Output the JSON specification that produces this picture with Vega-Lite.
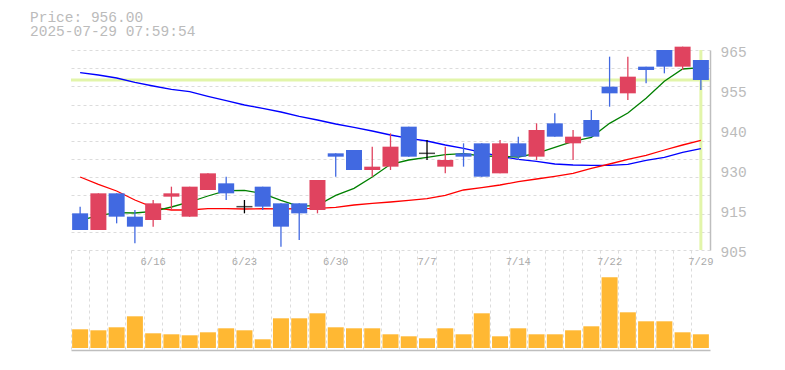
{
  "$schema": "https://vega.github.io/schema/vega-lite/v6.json",
  "background": "white",
  "padding": {"left": 30, "top": 9, "right": 5, "bottom": 5},
  "title": {
    "text": ["Price: 956.00", "2025-07-29 07:59:54"],
    "anchor": "start",
    "frame": "group",
    "dx": -41,
    "offset": 5,
    "font": "Liberation Mono",
    "fontSize": 14.5,
    "fontWeight": "normal",
    "lineHeight": 14.5,
    "color": "#bbbbbb"
  },
  "datasets": {
    "ohlc": [
      {"d": "6/10", "o": 916, "h": 918, "l": 911, "c": 911, "v": 187000, "ma5": 913.9, "ma25": 926.9, "ma75": 958.2},
      {"d": "6/11", "o": 911, "h": 922, "l": 911, "c": 922, "v": 177000, "ma5": 915.3, "ma25": 924.7, "ma75": 957.5},
      {"d": "6/12", "o": 922, "h": 922, "l": 913, "c": 915, "v": 207000, "ma5": 916.2, "ma25": 922.7, "ma75": 956.6},
      {"d": "6/13", "o": 915, "h": 917, "l": 907, "c": 912, "v": 317000, "ma5": 916.1, "ma25": 920.0, "ma75": 955.3},
      {"d": "6/16", "o": 914, "h": 920, "l": 912, "c": 919, "v": 147000, "ma5": 916.6, "ma25": 917.8, "ma75": 954.2},
      {"d": "6/17", "o": 921, "h": 924, "l": 917, "c": 922, "v": 137000, "ma5": 917.9, "ma25": 917.0, "ma75": 953.2},
      {"d": "6/18", "o": 915, "h": 924, "l": 915, "c": 924, "v": 127000, "ma5": 919.4, "ma25": 917.0, "ma75": 952.5},
      {"d": "6/19", "o": 923, "h": 928, "l": 923, "c": 928, "v": 157000, "ma5": 921.2, "ma25": 917.4, "ma75": 951.1},
      {"d": "6/20", "o": 925, "h": 927, "l": 920, "c": 922, "v": 197000, "ma5": 922.8, "ma25": 917.4, "ma75": 949.8},
      {"d": "6/23", "o": 918, "h": 920, "l": 916, "c": 918, "v": 177000, "ma5": 922.9, "ma25": 917.3, "ma75": 948.5},
      {"d": "6/24", "o": 924, "h": 924, "l": 917, "c": 918, "v": 87000, "ma5": 921.9, "ma25": 917.4, "ma75": 947.5},
      {"d": "6/25", "o": 919, "h": 919, "l": 906, "c": 912, "v": 297000, "ma5": 919.9, "ma25": 917.3, "ma75": 946.4},
      {"d": "6/26", "o": 919, "h": 919, "l": 908, "c": 916, "v": 297000, "ma5": 918.1, "ma25": 917.4, "ma75": 945.1},
      {"d": "6/27", "o": 917, "h": 926, "l": 916, "c": 926, "v": 347000, "ma5": 918.4, "ma25": 917.5, "ma75": 944.0},
      {"d": "6/30", "o": 934, "h": 934, "l": 927, "c": 933, "v": 207000, "ma5": 921.4, "ma25": 917.8, "ma75": 942.8},
      {"d": "7/1", "o": 935, "h": 935, "l": 929, "c": 929, "v": 197000, "ma5": 923.5, "ma25": 918.5, "ma75": 941.8},
      {"d": "7/2", "o": 929, "h": 936, "l": 927, "c": 930, "v": 197000, "ma5": 926.9, "ma25": 919.0, "ma75": 940.7},
      {"d": "7/3", "o": 930, "h": 940, "l": 929, "c": 936, "v": 137000, "ma5": 930.7, "ma25": 919.4, "ma75": 939.5},
      {"d": "7/4", "o": 942, "h": 942, "l": 933, "c": 933, "v": 117000, "ma5": 932.0, "ma25": 919.9, "ma75": 938.5},
      {"d": "7/7", "o": 934, "h": 938, "l": 932, "c": 934, "v": 97000, "ma5": 932.8, "ma25": 920.4, "ma75": 937.7},
      {"d": "7/8", "o": 930, "h": 936, "l": 928, "c": 932, "v": 197000, "ma5": 933.6, "ma25": 921.4, "ma75": 936.5},
      {"d": "7/9", "o": 934, "h": 937, "l": 930, "c": 933, "v": 137000, "ma5": 933.9, "ma25": 923.0, "ma75": 935.5},
      {"d": "7/10", "o": 937, "h": 937, "l": 927, "c": 927, "v": 347000, "ma5": 933.2, "ma25": 923.7, "ma75": 934.3},
      {"d": "7/11", "o": 928, "h": 938, "l": 928, "c": 937, "v": 117000, "ma5": 933.1, "ma25": 924.5, "ma75": 933.1},
      {"d": "7/14", "o": 937, "h": 939, "l": 932, "c": 933, "v": 197000, "ma5": 932.9, "ma25": 925.5, "ma75": 932.2},
      {"d": "7/15", "o": 933, "h": 943, "l": 932, "c": 941, "v": 137000, "ma5": 934.0, "ma25": 926.3, "ma75": 931.6},
      {"d": "7/16", "o": 943, "h": 946, "l": 939, "c": 939, "v": 137000, "ma5": 935.8, "ma25": 927.1, "ma75": 930.8},
      {"d": "7/17", "o": 937, "h": 941, "l": 932, "c": 939, "v": 177000, "ma5": 937.6, "ma25": 928.0, "ma75": 930.5},
      {"d": "7/18", "o": 944, "h": 947, "l": 939, "c": 939, "v": 217000, "ma5": 938.8, "ma25": 929.5, "ma75": 930.4},
      {"d": "7/22", "o": 954, "h": 963, "l": 948, "c": 952, "v": 707000, "ma5": 943.0, "ma25": 930.8, "ma75": 930.4},
      {"d": "7/23", "o": 952, "h": 963, "l": 950, "c": 957, "v": 357000, "ma5": 946.1, "ma25": 932.2, "ma75": 930.7},
      {"d": "7/24", "o": 960, "h": 960, "l": 955, "c": 959, "v": 267000, "ma5": 950.5, "ma25": 933.4, "ma75": 931.9},
      {"d": "7/25", "o": 965, "h": 965, "l": 958, "c": 960, "v": 267000, "ma5": 955.6, "ma25": 935.0, "ma75": 932.8},
      {"d": "7/28", "o": 960, "h": 966, "l": 959, "c": 966, "v": 157000, "ma5": 959.3, "ma25": 936.5, "ma75": 934.3},
      {"d": "7/29", "o": 962, "h": 962, "l": 953, "c": 956, "v": 137000, "ma5": 959.7, "ma25": 937.9, "ma75": 935.4}
    ]
  },
  "spacing": 0,
  "bounds": "flush",
  "vconcat": [
    {
      "width": 639,
      "height": 200,
      "data": {"name": "ohlc"},
      "resolve": {"axis": {"y": "independent"}},
      "layer": [
        {
          "mark": {"type": "line", "color": "#0000ff", "strokeWidth": 1.3, "opacity": 0},
          "encoding": {
            "x": {
              "field": "d", "type": "ordinal", "sort": null, "title": null,
              "scale": {"type": "band", "paddingInner": 0, "paddingOuter": 0},
              "axis": {
                "orient": "bottom",
                "bandPosition": 0,
                "grid": true, "gridColor": "#dcdcdc", "gridDash": [3, 3], "gridWidth": 1,
                "ticks": false,
                "labels": false,
                "domain": true, "domainColor": "#bebebe", "domainWidth": 1.5
              }
            },
            "y": {
              "field": "c", "type": "quantitative", "title": null,
              "scale": {"domain": [905, 965], "nice": false, "zero": false},
              "axis": {
                "orient": "left",
                "values": [905, 910.4545, 915.9091, 921.3636, 926.8182, 932.2727, 937.7273, 943.1818, 948.6364, 954.0909, 959.5455, 965],
                "labels": false, "ticks": false, "domain": false,
                "grid": true, "gridColor": "#dcdcdc", "gridDash": [3, 3], "gridWidth": 1
              }
            }
          }
        },
        {
          "transform": [{"filter": "datum.d == '7/29'"}],
          "mark": {"type": "rule", "color": "#e2f5aa", "strokeWidth": 3},
          "encoding": {
            "x": {"field": "d", "type": "ordinal", "sort": null, "scale": {"type": "band", "paddingInner": 0, "paddingOuter": 0}, "axis": null}
          }
        },
        {
          "transform": [{"filter": "datum.d == '7/29'"}],
          "mark": {"type": "rule", "color": "#e2f5aa", "strokeWidth": 3},
          "encoding": {
            "y": {"field": "c", "type": "quantitative", "scale": {"domain": [905, 965], "nice": false, "zero": false}, "axis": null}
          }
        },
        {
          "mark": {"type": "line", "color": "#0000ff", "strokeWidth": 1.3},
          "encoding": {
            "x": {"field": "d", "type": "ordinal", "sort": null, "scale": {"type": "band", "paddingInner": 0, "paddingOuter": 0}, "axis": null},
            "y": {"field": "ma75", "type": "quantitative", "scale": {"domain": [905, 965], "nice": false, "zero": false}, "axis": null}
          }
        },
        {
          "mark": {"type": "line", "color": "#ff0000", "strokeWidth": 1.3},
          "encoding": {
            "x": {"field": "d", "type": "ordinal", "sort": null, "scale": {"type": "band", "paddingInner": 0, "paddingOuter": 0}, "axis": null},
            "y": {"field": "ma25", "type": "quantitative", "scale": {"domain": [905, 965], "nice": false, "zero": false}, "axis": null}
          }
        },
        {
          "mark": {"type": "line", "color": "#008000", "strokeWidth": 1.3},
          "encoding": {
            "x": {"field": "d", "type": "ordinal", "sort": null, "scale": {"type": "band", "paddingInner": 0, "paddingOuter": 0}, "axis": null},
            "y": {"field": "ma5", "type": "quantitative", "scale": {"domain": [905, 965], "nice": false, "zero": false}, "axis": null}
          }
        },
        {
          "mark": {"type": "rule", "strokeWidth": 1.3},
          "encoding": {
            "x": {"field": "d", "type": "ordinal", "sort": null, "scale": {"type": "band", "paddingInner": 0, "paddingOuter": 0}, "axis": null},
            "y": {
              "field": "l", "type": "quantitative", "title": null,
              "scale": {"domain": [905, 965], "nice": false, "zero": false},
              "axis": {
                "orient": "right",
                "values": [905, 917, 929, 941, 953, 965],
                "labelExpr": "format(round(datum.value / 5) * 5, 'd')",
                "grid": false, "ticks": false,
                "domain": true, "domainColor": "#bebebe", "domainWidth": 1.5,
                "labelFont": "Liberation Mono", "labelFontSize": 14.5, "labelColor": "#bbbbbb",
                "labelPadding": 10, "labelOffset": 2.5, "labelBaseline": "middle",
                "labelOverlap": false, "labelFlush": false
              }
            },
            "y2": {"field": "h"},
            "color": {"condition": [{"test": "datum.c > datum.o", "value": "#e0435f"}, {"test": "datum.c < datum.o", "value": "#4169e1"}], "value": "#000000"}
          }
        },
        {
          "mark": {"type": "bar", "width": 16},
          "encoding": {
            "x": {"field": "d", "type": "ordinal", "sort": null, "scale": {"type": "band", "paddingInner": 0, "paddingOuter": 0}, "axis": null},
            "y": {"field": "o", "type": "quantitative", "scale": {"domain": [905, 965], "nice": false, "zero": false}, "axis": null},
            "y2": {"field": "c"},
            "color": {"condition": [{"test": "datum.c > datum.o", "value": "#e0435f"}, {"test": "datum.c < datum.o", "value": "#4169e1"}], "value": "#000000"}
          }
        },
        {
          "transform": [{"filter": "datum.o == datum.c"}],
          "mark": {"type": "tick", "thickness": 1.5, "size": 16, "color": "#000000"},
          "encoding": {
            "x": {"field": "d", "type": "ordinal", "sort": null, "scale": {"type": "band", "paddingInner": 0, "paddingOuter": 0}, "axis": null},
            "y": {"field": "c", "type": "quantitative", "scale": {"domain": [905, 965], "nice": false, "zero": false}, "axis": null}
          }
        }
      ]
    },
    {
      "width": 639,
      "height": 100,
      "data": {"name": "ohlc"},
      "resolve": {"axis": {"x": "independent"}},
      "layer": [
        {
          "mark": {"type": "bar", "width": 16, "color": "#ffb833"},
          "encoding": {
            "x": {
              "field": "d", "type": "ordinal", "sort": null, "title": null,
              "scale": {"type": "band", "paddingInner": 0, "paddingOuter": 0},
              "axis": {
                "orient": "bottom", "bandPosition": 0,
                "grid": true, "gridColor": "#dcdcdc", "gridDash": [3, 3], "gridWidth": 1,
                "ticks": false, "labels": false,
                "domain": true, "domainColor": "#bebebe", "domainWidth": 1.5
              }
            },
            "y": {
              "field": "v", "type": "quantitative", "title": null,
              "scale": {"domain": [-20000, 980000], "nice": false, "zero": false},
              "axis": {
                "orient": "right", "labels": false, "ticks": false, "grid": false,
                "domain": true, "domainColor": "#bebebe", "domainWidth": 1.5
              }
            }
          }
        },
        {
          "mark": {"type": "bar", "width": 16, "opacity": 0},
          "encoding": {
            "x": {
              "field": "d", "type": "ordinal", "sort": null, "title": null,
              "scale": {"type": "band", "paddingInner": 0, "paddingOuter": 0},
              "axis": {
                "orient": "top",
                "grid": false, "ticks": false, "domain": false,
                "labelExpr": "(datum.value == '6/16' || datum.value == '6/23' || datum.value == '6/30' || datum.value == '7/7' || datum.value == '7/14' || datum.value == '7/22' || datum.value == '7/29') ? datum.value : ''",
                "labelAngle": 0,
                "labelAlign": "center",
                "labelBaseline": "top",
                "labelPadding": -6,
                "labelOverlap": false,
                "labelFont": "Liberation Mono",
                "labelFontSize": 10.5,
                "labelColor": "#aaaaaa",
                "zindex": 2
              }
            },
            "y": {"field": "v", "type": "quantitative", "scale": {"domain": [-20000, 980000], "nice": false, "zero": false}, "axis": null}
          }
        }
      ]
    }
  ],
  "config": {
    "view": {"stroke": null}
  }
}
